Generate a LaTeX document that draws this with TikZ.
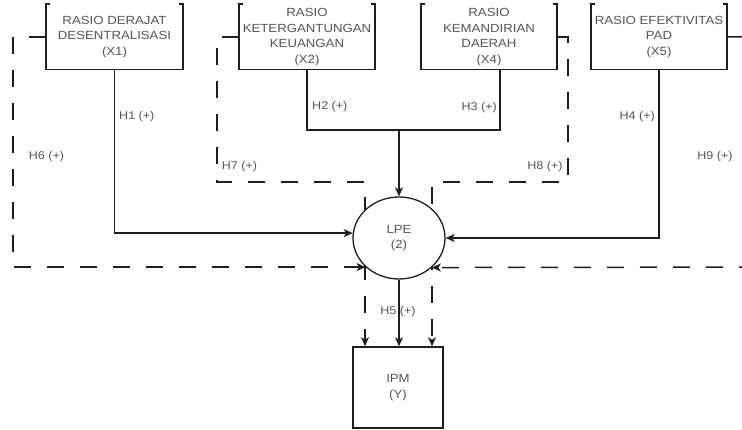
\documentclass[tikz,border=0pt]{standalone}
\usepackage{fontspec}
\setmainfont[FakeStretch=1.12]{Liberation Sans}
\usetikzlibrary{arrows.meta,backgrounds,shapes.geometric}
\definecolor{txtgray}{RGB}{85,85,85}
\definecolor{linegray}{RGB}{30,30,30}
\begin{document}
\begin{tikzpicture}[x=1pt,y=-1pt,
  vbox/.style={draw=none, minimum width=136pt, minimum height=65pt, inner sep=0pt,
    align=center, text=txtgray, font=\fontsize{11.8}{15.5}\selectfont},
  boxline/.style={line width=1.6pt, draw=linegray},
  conn/.style={line width=1.4pt, draw=linegray},
  arr/.style={-{Stealth[length=9pt,width=8pt,inset=2.5pt]}},
  dashline/.style={line width=1.5pt, draw=linegray, dash pattern=on 17pt off 16pt},
  hlbl/.style={inner sep=0pt, text=txtgray, font=\fontsize{11.2}{13}\selectfont},
  circnode/.style={ellipse, draw=linegray, fill=white, line width=1.3pt,
    minimum width=92pt, minimum height=82pt, inner sep=0pt, align=center,
    text=txtgray, font=\fontsize{11.8}{15.5}\selectfont},
  ipmbox/.style={rectangle, draw=linegray, line width=1.5pt, minimum width=90pt,
    minimum height=81pt, inner sep=0pt, align=center, text=txtgray,
    font=\fontsize{11.8}{16}\selectfont}
]
\useasboundingbox (0,0) rectangle (742,430);
\clip (0,0) rectangle (742,430);

% top boxes
\node[vbox, minimum width=137pt] (x1) at (114.5,37) {RASIO DERAJAT\\DESENTRALISASI\\(X1)};
\node[vbox] (x2) at (307,37) {RASIO\\KETERGANTUNGAN\\KEUANGAN\\(X2)};
\node[vbox] (x4) at (489,37) {RASIO\\KEMANDIRIAN\\DAERAH\\(X4)};
\node[vbox] (x5) at (659,37) {RASIO EFEKTIVITAS\\PAD\\(X5)};
\foreach \b in {x1,x2,x4,x5}{
  \draw[boxline] ([xshift=4pt]\b.north west) -- (\b.north west) -- (\b.south west)
     -- (\b.south east) -- (\b.north east) -- ([xshift=-4pt]\b.north east);
}

% central nodes
\node[circnode] (lpe) at (399,238) {LPE\\(2)};
\node[ipmbox] (ipm) at (398,387.5) {IPM\\(Y)};

% coordinates
\coordinate (m) at (399,130);
\coordinate (h6a) at (13,37);
\coordinate (h7a) at (217,37);
\coordinate (h7b) at (217,182);
\coordinate (h7c) at (365,182);
\coordinate (h8a) at (568,37);
\coordinate (h8b) at (568,182);
\coordinate (h8c) at (432,182);
\coordinate (h9a) at (775,37);
\coordinate (h9b) at (775,267);

% dashed paths (behind the circle)
\begin{pgfonlayer}{background}
\draw[dashline,arr] (x1.west) -- (h6a) |- (lpe.221.7);
\draw[dashline,arr] (x2.west) -- (h7a) -- (h7b) -- (h7c) -- (h7c |- ipm.north);
\draw[dashline,arr] (x4.east) -- (h8a) -- (h8b) -- (h8c) -- (h8c |- ipm.north);
\draw[dashline,arr] (x5.east) -- (h9a) -- (h9b) -- (lpe.318.3);
\end{pgfonlayer}

% solid connectors
\draw[conn,arr] (x1.south) |- (lpe.174);
\draw[conn,arr] (x5.south) |- (lpe.east);
\draw[conn] (x2.south) |- (m);
\draw[conn] ([xshift=11pt]x4.south) |- (m);
\draw[conn,arr] (m) -- (lpe.north);
\draw[conn,arr] (lpe.south) -- (lpe.south |- ipm.north);

% labels
\node[hlbl, anchor=west] (l1) at (119,117) {H1 (+)};
\node[hlbl, anchor=west] (l2) at (312,107) {H2 (+)};
\node[hlbl, anchor=east] (l3) at (497,108) {H3 (+)};
\node[hlbl, anchor=east] (l4) at (655,117) {H4 (+)};
\node[hlbl] (l5) at (398,312) {H5 (+)};
\node[hlbl] (l6) at (46.5,157) {H6 (+)};
\node[hlbl] (l7) at (239.5,167) {H7 (+)};
\node[hlbl] (l8) at (545,167) {H8 (+)};
\node[hlbl] (l9) at (715,157) {H9 (+)};
\end{tikzpicture}
\end{document}
